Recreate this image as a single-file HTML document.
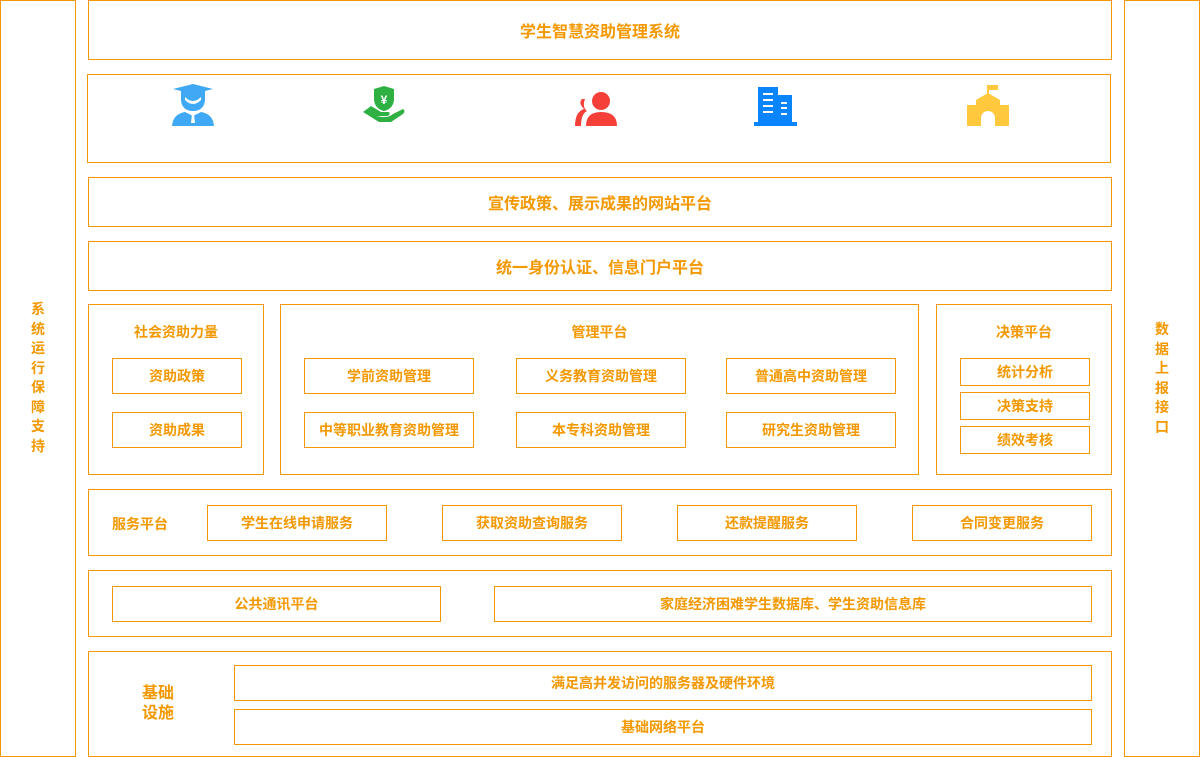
<!DOCTYPE html>
<html><head><meta charset="utf-8"><style>
body{margin:0;width:1200px;height:757px;background:#fff;position:relative;overflow:hidden;font-family:"Liberation Sans","Noto Sans CJK SC",sans-serif;color:#f39800;font-weight:bold}
.b{position:absolute;border:1px solid #f39800;box-sizing:border-box;display:flex;align-items:center;justify-content:center;font-size:14px}
.t{position:absolute;font-size:14px;text-align:center}
.v{position:absolute;font-size:14px;line-height:19.5px;width:20px;text-align:center}
svg{position:absolute}
</style></head><body>
<div class="b" style="left:0;top:0;width:76px;height:757px"></div>
<div class="v" style="left:28px;top:300px">系<br>统<br>运<br>行<br>保<br>障<br>支<br>持</div>
<div class="b" style="left:1124px;top:0;width:76px;height:757px"></div>
<div class="v" style="left:1152px;top:320px">数<br>据<br>上<br>报<br>接<br>口</div>

<div class="b" style="left:88px;top:0;width:1024px;height:60px;font-size:16px">学生智慧资助管理系统</div>
<div class="b" style="left:87px;top:74px;width:1024px;height:89px"></div>
<svg style="left:171px;top:83px" width="44" height="44" viewBox="0 0 44 44" fill="#3fa9f5"><path d="M2 6 L22 1 L42 6 L22 11Z"/><path d="M10 8 h24 v8 c0 8-5 12-12 12 s-12-4-12-12z"/><path d="M14 14 q8 8 16 0 v3 q-8 8-16 0z" fill="#fff"/><path d="M1 43 q1-12 13-14 l8 4 8-4 q12 2 13 14z"/><path d="M21 31 h2 l1 9 h-4z" fill="#fff"/></svg>
<svg style="left:362px;top:86px" width="44" height="40" viewBox="0 0 44 40" fill="#2fb043"><path d="M12 3 l10-3 10 3 v10 c0 7-5 11-10 12 c-5-1-10-5-10-12z"/><text x="22" y="18" font-size="12" fill="#fff" text-anchor="middle" font-family="Liberation Sans">¥</text><path d="M1 26 l8-6 l10 6 h8 q2 3-2 4 h-10 q10 3 16-2 l10-5 q3 2 0 5 l-12 8 h-12z"/></svg>
<svg style="left:574px;top:92px" width="44" height="34" viewBox="0 0 44 34" fill="#f5403a"><circle cx="27" cy="9" r="9"/><path d="M12 34 q0-14 15-14 q16 0 16 14z"/><path d="M8 7 q-4 4 2 10 q-9 3-9 17 h6 q0-12 6-15 q-5-4-2-12z"/></svg>
<svg style="left:754px;top:86px" width="44" height="40" viewBox="0 0 44 40" fill="#0a84ff"><path d="M4 1 h20 v8 h14 v28 h-34z"/><rect x="0" y="36" width="43" height="4"/><g fill="#fff"><rect x="9" y="7" width="10" height="2"/><rect x="9" y="13" width="10" height="2"/><rect x="9" y="19" width="10" height="2"/><rect x="9" y="25" width="10" height="2"/><rect x="27" y="16" width="6" height="2"/><rect x="27" y="21" width="6" height="2"/><rect x="27" y="27" width="6" height="2"/></g></svg>
<svg style="left:966px;top:85px" width="44" height="41" viewBox="0 0 44 41" fill="#ffc83d"><rect x="21" y="0" width="2" height="10"/><rect x="23" y="0" width="9" height="5"/><path d="M10 15 l12-7 12 7 v5 h9 v21 h-14 v-8 a7 7 0 0 0-14 0 v8 h-14 v-21 h9z"/></svg>

<div class="b" style="left:88px;top:177px;width:1024px;height:50px;font-size:16px">宣传政策、展示成果的网站平台</div>
<div class="b" style="left:88px;top:241px;width:1024px;height:50px;font-size:16px">统一身份认证、信息门户平台</div>

<div class="b" style="left:88px;top:304px;width:176px;height:171px"></div>
<div class="t" style="left:88px;top:322px;width:176px">社会资助力量</div>
<div class="b" style="left:112px;top:358px;width:130px;height:36px">资助政策</div>
<div class="b" style="left:112px;top:412px;width:130px;height:36px">资助成果</div>

<div class="b" style="left:280px;top:304px;width:639px;height:171px"></div>
<div class="t" style="left:280px;top:322px;width:639px">管理平台</div>
<div class="b" style="left:304px;top:358px;width:170px;height:36px">学前资助管理</div>
<div class="b" style="left:516px;top:358px;width:170px;height:36px">义务教育资助管理</div>
<div class="b" style="left:726px;top:358px;width:170px;height:36px">普通高中资助管理</div>
<div class="b" style="left:304px;top:412px;width:170px;height:36px">中等职业教育资助管理</div>
<div class="b" style="left:516px;top:412px;width:170px;height:36px">本专科资助管理</div>
<div class="b" style="left:726px;top:412px;width:170px;height:36px">研究生资助管理</div>

<div class="b" style="left:936px;top:304px;width:176px;height:171px"></div>
<div class="t" style="left:936px;top:322px;width:176px">决策平台</div>
<div class="b" style="left:960px;top:358px;width:130px;height:28px">统计分析</div>
<div class="b" style="left:960px;top:392px;width:130px;height:28px">决策支持</div>
<div class="b" style="left:960px;top:426px;width:130px;height:28px">绩效考核</div>

<div class="b" style="left:88px;top:489px;width:1024px;height:67px"></div>
<div class="t" style="left:112px;top:514px">服务平台</div>
<div class="b" style="left:207px;top:505px;width:180px;height:36px">学生在线申请服务</div>
<div class="b" style="left:442px;top:505px;width:180px;height:36px">获取资助查询服务</div>
<div class="b" style="left:677px;top:505px;width:180px;height:36px">还款提醒服务</div>
<div class="b" style="left:912px;top:505px;width:180px;height:36px">合同变更服务</div>

<div class="b" style="left:88px;top:570px;width:1024px;height:67px"></div>
<div class="b" style="left:112px;top:586px;width:329px;height:36px">公共通讯平台</div>
<div class="b" style="left:494px;top:586px;width:598px;height:36px">家庭经济困难学生数据库、学生资助信息库</div>

<div class="b" style="left:88px;top:651px;width:1024px;height:106px"></div>
<div class="t" style="left:142px;top:684px;font-size:16px;line-height:20px">基础<br>设施</div>
<div class="b" style="left:234px;top:665px;width:858px;height:36px">满足高并发访问的服务器及硬件环境</div>
<div class="b" style="left:234px;top:709px;width:858px;height:36px">基础网络平台</div>
</body></html>
